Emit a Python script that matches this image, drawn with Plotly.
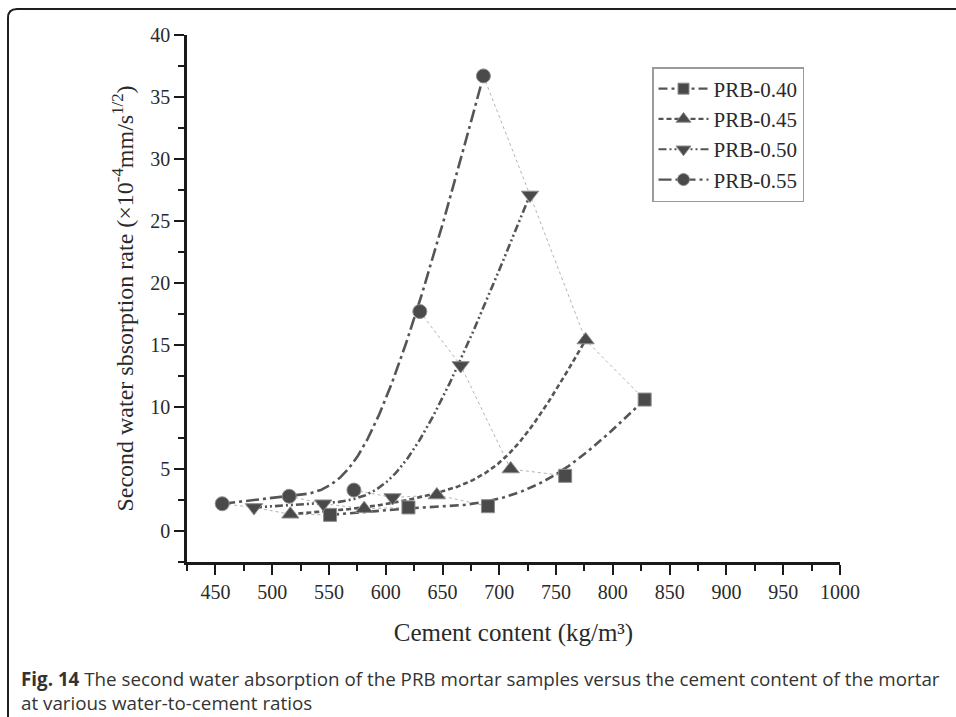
import numpy as np
import plotly.graph_objects as go

# Cement content (kg/m3) and second water absorption rate (x10^-4 mm/s^1/2)
x_040 = [551, 620, 690, 758, 828]
y_040 = [1.3, 1.9, 2.0, 4.45, 10.6]

x_045 = [516, 581, 645, 710, 776]
y_045 = [1.35, 1.8, 2.9, 5.0, 15.4]

x_050 = [484, 545, 606, 666, 727]
y_050 = [1.9, 2.2, 2.7, 13.35, 27.1]

x_055 = [456, 515, 572, 630, 686]
y_055 = [2.2, 2.8, 3.3, 17.7, 36.7]

names = ["PRB-0.40", "PRB-0.45", "PRB-0.50", "PRB-0.55"]
symbols = ["square", "triangle-up", "triangle-down", "circle"]
sizes = [13, 15, 15, 14]
dashes = ["9px,4px,3px,4px", "5px,3px", "8px,3px,2px,3px,2px,3px", "13px,4px,3px,4px"]

series = [(x_040, y_040), (x_045, y_045), (x_050, y_050), (x_055, y_055)]

INK = "#4a4a4a"
SERIF = "Liberation Serif, Times New Roman, serif"

# plot-area pixel box used to place decorations in paper units
L, R, T, B = 187, 840, 35, 562
W, H = 956, 717


def px(v):
    return (v - L) / (R - L)


def py(v):
    return (B - v) / (B - T)


def bspline(x, y, n=80):
    """Uniform cubic B-spline using the points as control polygon,
    with reflected end points so the curve starts and ends on the data."""
    P = np.column_stack([x, y]).astype(float)
    P = np.vstack([2 * P[0] - P[1], P, 2 * P[-1] - P[-2]])
    xs, ys = [], []
    nseg = len(P) - 3
    for i in range(nseg):
        t = np.linspace(0, 1, n, endpoint=(i == nseg - 1))
        b0 = (1 - t) ** 3 / 6
        b1 = (3 * t**3 - 6 * t**2 + 4) / 6
        b2 = (-3 * t**3 + 3 * t**2 + 3 * t + 1) / 6
        b3 = t**3 / 6
        seg = (b0[:, None] * P[i] + b1[:, None] * P[i + 1]
               + b2[:, None] * P[i + 2] + b3[:, None] * P[i + 3])
        xs.extend(seg[:, 0])
        ys.extend(seg[:, 1])
    return xs, ys


fig = go.Figure()

# thin dotted links joining points of equal rank across the four mixes
for i in range(len(x_040)):
    fig.add_trace(go.Scatter(
        x=[x_055[i], x_050[i], x_045[i], x_040[i]],
        y=[y_055[i], y_050[i], y_045[i], y_040[i]],
        mode="lines", line=dict(color="#b4b4b4", width=1, dash="dot"),
        showlegend=False, hoverinfo="skip"))

# smoothed curve for each mix
for (xv, yv), d in zip(series, dashes):
    xs, ys = bspline(xv, yv)
    fig.add_trace(go.Scatter(
        x=xs, y=ys, mode="lines",
        line=dict(color="#555555", width=2.6, dash=d),
        showlegend=False, hoverinfo="skip"))

# measured points
for (xv, yv), s, sz, n in zip(series, symbols, sizes, names):
    fig.add_trace(go.Scatter(
        x=xv, y=yv, mode="markers", name=n, showlegend=False,
        marker=dict(symbol=s, size=sz, color=INK, line=dict(color="#8c8c8c", width=1))))

# legend entries (line style + marker)
for s, sz, n, d in zip(symbols, sizes, names, dashes):
    fig.add_trace(go.Scatter(
        x=[None], y=[None], mode="lines+markers", name=n,
        line=dict(color="#555555", width=2.2, dash=d),
        marker=dict(symbol=s, size=sz - 2, color=INK, line=dict(color="#8c8c8c", width=1))))

axis_common = dict(
    showline=True, linewidth=2.5, linecolor="#1a1a1a", mirror=False,
    showgrid=False, zeroline=False, ticks="outside", ticklen=10, tickwidth=2,
    tickcolor="#1a1a1a", tickfont=dict(family=SERIF, size=20, color="#2a2a2a"),
)

fig.update_layout(
    width=W, height=H,
    margin=dict(l=L, r=W - R, t=T, b=H - B),
    paper_bgcolor="white", plot_bgcolor="white",
    font=dict(family=SERIF, color="#2a2a2a"),
    xaxis=dict(
        range=[425, 1000], tick0=450, dtick=50,
        minor=dict(ticks="outside", ticklen=6, tickwidth=2, tickcolor="#1a1a1a", dtick=25, tick0=425),
        title=dict(text="Cement content (kg/m³)", font=dict(family=SERIF, size=25), standoff=22),
        **axis_common),
    yaxis=dict(
        range=[-2.5, 40], tick0=0, dtick=5,
        minor=dict(ticks="outside", ticklen=6, tickwidth=2, tickcolor="#1a1a1a", dtick=2.5, tick0=0),
        title=dict(text="Second water sbsorption rate (×10<sup>-4</sup>mm/s<sup>1/2</sup>)",
                   font=dict(family=SERIF, size=24), standoff=10),
        **axis_common),
    legend=dict(
        x=px(652), y=py(67), xanchor="left", yanchor="top",
        bgcolor="white", bordercolor="#9a9a9a", borderwidth=1.5,
        font=dict(family=SERIF, size=21, color="#2a2a2a"),
        itemwidth=50, tracegroupgap=0),
    showlegend=True,
)

# rounded outer frame of the figure panel
path = (f"M {px(W + 5)},{py(9)} L {px(17)},{py(9)} "
        f"Q {px(8)},{py(9)} {px(8)},{py(18)} L {px(8)},{py(H + 5)}")
fig.add_shape(type="path", path=path, xref="paper", yref="paper",
              line=dict(color="#1e1e1e", width=2))

# caption
fig.add_annotation(
    xref="paper", yref="paper", x=px(19), y=py(664), xanchor="left", yanchor="top",
    align="left", showarrow=False,
    text=("<b>Fig. 14</b> The second water absorption of the PRB mortar samples versus "
          "the cement content of the mortar<br>at various water-to-cement ratios"),
    font=dict(family="Open Sans, sans-serif", size=18.8, color="#333333"))

fig.write_html("out.html")
